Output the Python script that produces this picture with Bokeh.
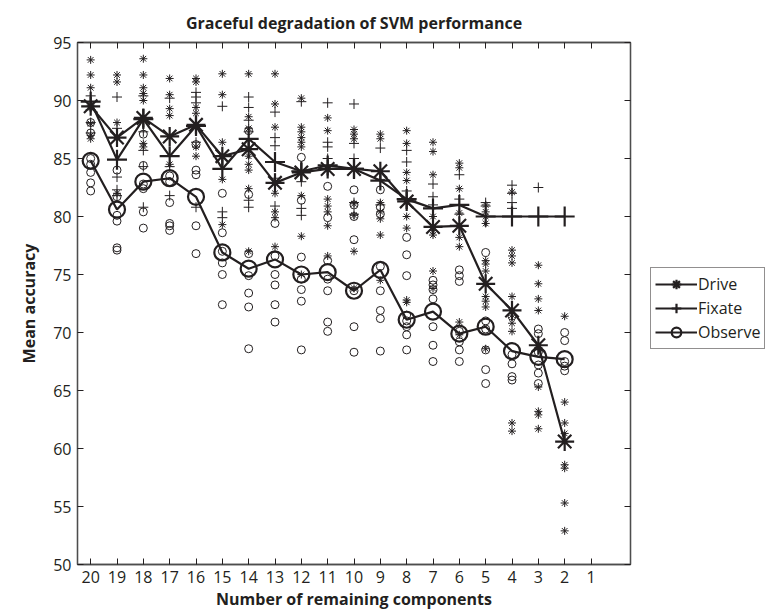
from bokeh.plotting import figure
from bokeh.layouts import row
from bokeh.models import Range1d, LinearAxis, FixedTicker, Legend, LegendItem
from bokeh.embed import file_html
from bokeh.resources import INLINE

# ---------------- data ----------------
components = [20, 19, 18, 17, 16, 15, 14, 13, 12, 11, 10, 9, 8, 7, 6, 5, 4, 3, 2]

drive_mean = [89.5, 86.8, 88.5, 86.9, 87.9, 85.2, 85.8, 82.9, 83.8, 84.1,
              84.1, 83.9, 81.3, 79.1, 79.2, 74.2, 71.9, 68.9, 60.6]
fixate_mean = [89.9, 84.9, 88.4, 85.2, 87.8, 84.1, 86.7, 84.7, 83.9, 84.4,
               84.1, 83.1, 81.5, 80.7, 81.0, 80.0, 80.0, 80.0, 80.0]
observe_mean = [84.8, 80.6, 83.0, 83.3, 81.7, 76.9, 75.5, 76.3, 75.0, 75.2,
                73.6, 75.4, 71.1, 71.8, 69.9, 70.5, 68.4, 67.9, 67.7]

drive_points = [
    [93.5, 92.2, 91.1, 89.6, 87.0, 86.7, 88.0],
    [92.2, 91.6, 88.1, 86.8, 82.0],
    [93.6, 92.2, 91.1, 90.6, 90.0, 88.4, 86.3, 86.0],
    [91.9, 90.5, 89.3, 88.7, 84.5],
    [91.9, 91.6, 89.4, 88.9, 86.0, 85.2],
    [92.3, 90.5, 86.4, 83.2, 79.3],
    [92.3, 88.6, 87.6, 85.2, 84.5, 84.0, 82.4, 77.0],
    [92.3, 89.7, 87.7, 82.0, 80.4, 79.9, 77.4],
    [90.2, 87.7, 87.3, 86.8, 86.4, 86.0, 81.8, 78.3, 75.0],
    [88.5, 87.4, 81.5, 80.9, 80.4, 79.2, 76.6],
    [87.5, 87.1, 86.7, 81.1, 80.1, 77.0, 73.8],
    [87.1, 86.7, 81.2, 80.4, 79.8, 78.4, 74.5],
    [87.4, 86.3, 83.8, 83.1, 80.0, 79.0, 72.8, 72.6],
    [86.4, 85.6, 83.6, 80.0, 78.8, 78.4, 75.3, 73.8],
    [84.6, 84.2, 82.4, 80.3, 78.2, 77.4, 70.9, 69.8],
    [81.0, 80.4, 80.0, 79.4, 76.2, 75.9, 75.3, 73.1, 72.7, 72.2, 68.6],
    [82.1, 77.1, 76.6, 76.0, 73.1, 71.5, 70.8, 70.1, 62.2, 61.5],
    [75.8, 74.2, 72.9, 71.9, 68.7, 65.3, 63.2, 62.9, 61.7],
    [71.4, 64.0, 62.2, 61.3, 58.6, 58.3, 55.3, 52.9],
]
fixate_points = [
    [90.4, 89.2, 88.1, 87.2],
    [90.3, 87.6, 83.4, 82.3, 81.8],
    [90.4, 87.3, 85.7, 84.3, 80.8],
    [90.2, 84.3, 81.8],
    [90.7, 90.3, 89.8, 86.4, 80.8],
    [89.5, 80.4, 79.9],
    [90.3, 89.4, 88.3, 87.3, 81.4, 80.8],
    [89.0, 86.8, 86.1, 83.3, 80.9],
    [89.9, 83.0, 80.7, 80.1],
    [89.8, 86.4, 86.0, 85.0],
    [89.7, 86.3, 85.0, 81.2, 80.2],
    [85.9, 83.2, 81.0],
    [85.7, 84.7, 82.2, 81.5],
    [82.8, 81.7, 81.0],
    [83.6, 81.5, 80.2],
    [81.2, 80.9],
    [82.7, 82.0, 81.2, 80.7],
    [82.5],
    [],
]
observe_points = [
    [88.1, 87.2, 85.0, 84.5, 83.8, 82.9, 82.2],
    [84.0, 81.7, 80.1, 79.6, 77.3, 77.1],
    [87.1, 84.4, 82.8, 82.4, 80.4, 79.0],
    [83.5, 83.0, 81.2, 79.4, 79.2, 78.8],
    [86.2, 84.0, 83.6, 79.2, 76.8],
    [82.0, 78.6, 77.0, 76.0, 75.0, 72.4],
    [87.4, 81.9, 76.8, 74.9, 73.4, 72.2, 68.6],
    [79.4, 76.6, 75.0, 74.1, 72.4, 70.9],
    [85.1, 81.4, 76.5, 74.6, 73.7, 72.7, 68.5],
    [82.6, 79.9, 76.2, 74.6, 73.6, 70.9, 70.1],
    [82.3, 81.0, 80.0, 78.0, 73.6, 70.5, 68.3],
    [82.3, 80.8, 80.2, 75.7, 73.6, 71.9, 71.2, 68.4],
    [78.2, 76.7, 74.9, 71.5, 71.0, 70.5, 69.8, 68.5],
    [74.5, 74.1, 73.7, 72.9, 70.5, 68.9, 67.5],
    [75.4, 74.9, 74.4, 70.1, 69.2, 68.5, 67.5],
    [76.9, 71.0, 70.3, 68.5, 66.8, 65.6],
    [71.4, 68.1, 67.3, 66.2, 65.9],
    [70.3, 69.9, 68.3, 67.2, 66.5, 65.6],
    [70.0, 69.3, 67.5, 67.1, 66.7],
]

x_ticks = list(range(1, 21))
y_ticks = [50, 55, 60, 65, 70, 75, 80, 85, 90, 95]

title_text = "Graceful degradation of SVM performance"
x_label = "Number of remaining components"
y_label = "Mean accuracy"
series_names = ["Drive", "Fixate", "Observe"]


def flatten(comps, pts):
    xs, ys = [], []
    for c, vals in zip(comps, pts):
        for v in vals:
            xs.append(c)
            ys.append(v)
    return xs, ys


# ---------------- main figure ----------------
FONT = "Open Sans"
INK = "#231f20"
AX = "#4d4d4d"
MAIN_W = 640
LEG_W = 765 - MAIN_W

p = figure(width=MAIN_W, height=612,
           x_range=Range1d(20.5, -0.5), y_range=Range1d(50, 95),
           output_backend="svg", toolbar_location=None,
           min_border_left=77, min_border_right=10,
           min_border_top=42, min_border_bottom=47,
           title=title_text)
p.grid.visible = False
p.outline_line_color = AX
p.outline_line_width = 1.3
p.background_fill_color = "white"
p.border_fill_color = "white"

p.title.align = "center"
p.title.text_font = FONT
p.title.text_font_size = "16px"
p.title.text_font_style = "bold"
p.title.text_color = INK
p.title.standoff = 17


def style_axis(ax, ticks, show_labels=True):
    ax.ticker = FixedTicker(ticks=ticks)
    ax.major_tick_in = 6
    ax.major_tick_out = 0
    ax.minor_tick_line_color = None
    ax.axis_line_color = AX
    ax.axis_line_width = 1.3
    ax.major_tick_line_color = INK
    ax.major_tick_line_width = 1
    if show_labels:
        ax.major_label_text_font = FONT
        ax.major_label_text_font_size = "16px"
        ax.major_label_text_color = INK
        ax.axis_label_text_font = FONT
        ax.axis_label_text_font_size = "16px"
        ax.axis_label_text_font_style = "bold"
        ax.axis_label_text_color = INK
    else:
        ax.major_label_overrides = {t: "" for t in ticks}
        ax.major_label_text_font_size = "1px"
        ax.major_label_standoff = 0
        ax.axis_label = None


style_axis(p.xaxis[0], x_ticks)
p.xaxis[0].axis_label = x_label
p.xaxis[0].major_label_standoff = 6
p.xaxis[0].axis_label_standoff = 2
style_axis(p.yaxis[0], y_ticks)
p.yaxis[0].axis_label = y_label
p.yaxis[0].major_label_standoff = 6
p.yaxis[0].axis_label_standoff = 10

top_ax = LinearAxis()
style_axis(top_ax, x_ticks, show_labels=False)
p.add_layout(top_ax, "above")
right_ax = LinearAxis()
style_axis(right_ax, y_ticks, show_labels=False)
p.add_layout(right_ax, "right")

# individual points
dx, dy = flatten(components, drive_points)
fx, fy = flatten(components, fixate_points)
ox, oy = flatten(components, observe_points)
p.scatter(dx, dy, marker="asterisk", size=8, line_color=INK, line_width=1)
p.scatter(fx, fy, marker="cross", size=10, line_color=INK, line_width=1)
p.scatter(ox, oy, marker="circle", size=8, line_color=INK, fill_color=None, line_width=1)

# means
lw = 2.2


def mean_series(fig, ys, marker, size):
    ln = fig.line(components, ys, line_color=INK, line_width=lw)
    mk = fig.scatter(components, ys, marker=marker, size=size, line_color=INK,
                     fill_color=None, line_width=lw)
    return ln, mk


mean_series(p, drive_mean, "asterisk", 19)
mean_series(p, fixate_mean, "cross", 20)
mean_series(p, observe_mean, "circle", 16)

# ---------------- legend panel (separate canvas, same series) ----------------
q = figure(width=LEG_W, height=612, x_range=Range1d(0, 1), y_range=Range1d(0, 1),
           output_backend="svg", toolbar_location=None,
           min_border_left=0, min_border_right=0, min_border_top=0, min_border_bottom=0)
q.axis.visible = False
q.grid.visible = False
q.outline_line_color = None
q.background_fill_color = "white"
q.border_fill_color = "white"

q_d = mean_series(q, drive_mean, "asterisk", 19)
q_f = mean_series(q, fixate_mean, "cross", 20)
q_o = mean_series(q, observe_mean, "circle", 16)

legend = Legend(items=[
    LegendItem(label=series_names[0], renderers=list(q_d)),
    LegendItem(label=series_names[1], renderers=list(q_f)),
    LegendItem(label=series_names[2], renderers=list(q_o)),
], location=(10, 215))
legend.glyph_width = 42
legend.glyph_height = 24
legend.spacing = 0
legend.padding = 4
legend.margin = 0
legend.label_standoff = 1
legend.label_text_font = FONT
legend.label_text_font_size = "16px"
legend.label_text_color = INK
legend.border_line_color = INK
legend.border_line_width = 1
legend.background_fill_color = "white"
legend.background_fill_alpha = 1
q.add_layout(legend)

layout = row(p, q, spacing=0)
open("out.html", "w").write(file_html(layout, INLINE))
